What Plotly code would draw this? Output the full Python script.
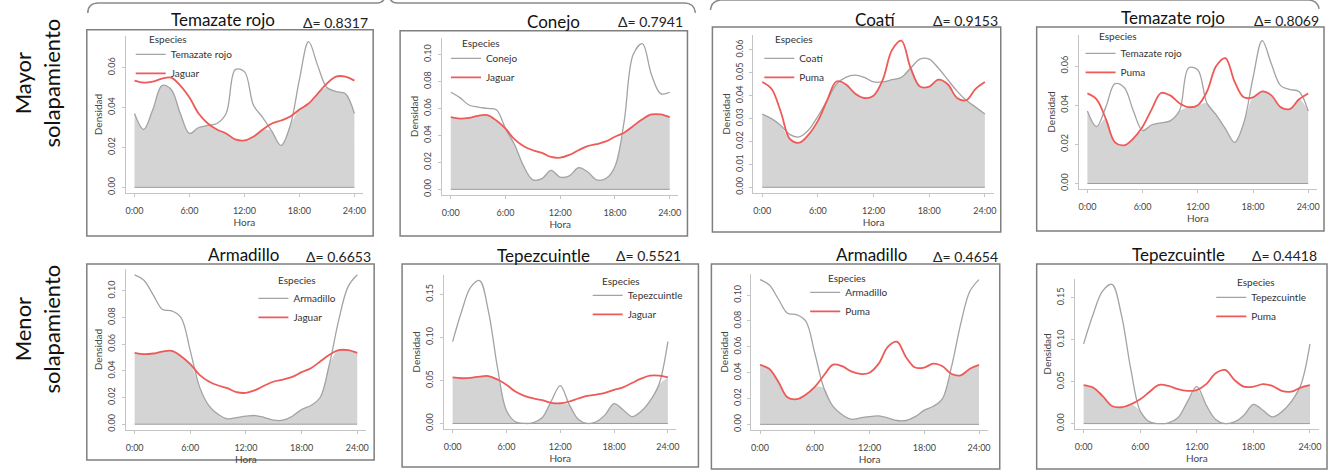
import plotly.graph_objects as go

W, H = 1335, 472

# ---------------- data ----------------
hours = list(range(25))
hour_ticks = [0, 6, 12, 18, 24]
hour_labels = ["0:00", "6:00", "12:00", "18:00", "24:00"]

temazate_rojo = [0.037, 0.029, 0.039, 0.051, 0.049, 0.037, 0.027, 0.030, 0.031, 0.032, 0.037, 0.059, 0.058,
                 0.041, 0.035, 0.028, 0.021, 0.031, 0.054, 0.073, 0.061, 0.050, 0.048, 0.047, 0.037]
jaguar = [0.0535, 0.0525, 0.053, 0.0545, 0.055, 0.051, 0.045, 0.037, 0.032, 0.029, 0.027, 0.024, 0.0235,
          0.0255, 0.029, 0.032, 0.0335, 0.0355, 0.039, 0.042, 0.047, 0.052, 0.0555, 0.0555, 0.0535]
conejo = [0.072, 0.068, 0.0625, 0.061, 0.060, 0.059, 0.045, 0.033, 0.017, 0.007, 0.008, 0.014, 0.009,
          0.010, 0.016, 0.013, 0.007, 0.008, 0.017, 0.050, 0.100, 0.108, 0.085, 0.071, 0.072]
coati = [0.032, 0.030, 0.027, 0.023, 0.022, 0.025, 0.031, 0.038, 0.045, 0.048, 0.049, 0.048, 0.046,
         0.046, 0.047, 0.048, 0.052, 0.056, 0.056, 0.052, 0.047, 0.042, 0.038, 0.035, 0.032]
puma = [0.046, 0.043, 0.033, 0.021, 0.0195, 0.023, 0.029, 0.038, 0.0462, 0.045, 0.041, 0.039, 0.040,
        0.047, 0.060, 0.064, 0.052, 0.044, 0.044, 0.047, 0.045, 0.039, 0.038, 0.043, 0.046]
armadillo = [0.112, 0.108, 0.097, 0.086, 0.085, 0.080, 0.055, 0.028, 0.014, 0.0075, 0.004, 0.005, 0.006,
             0.0065, 0.005, 0.003, 0.003, 0.006, 0.011, 0.014, 0.020, 0.045, 0.078, 0.103, 0.112]
tepezcuintle = [0.095, 0.130, 0.158, 0.166, 0.130, 0.065, 0.015, 0.002, 0.000, 0.001, 0.007, 0.026, 0.044,
                0.022, 0.005, 0.000, 0.002, 0.010, 0.023, 0.016, 0.008, 0.014, 0.026, 0.045, 0.095]

prey_names = ["Temazate rojo", "Conejo", "Coatí", "Temazate rojo",
              "Armadillo", "Tepezcuintle", "Armadillo", "Tepezcuintle"]
prey_series = [temazate_rojo, conejo, coati, temazate_rojo,
               armadillo, tepezcuintle, armadillo, tepezcuintle]
predator_names = ["Jaguar", "Jaguar", "Puma", "Puma", "Jaguar", "Jaguar", "Puma", "Puma"]
predator_series = [jaguar, jaguar, puma, puma, jaguar, jaguar, puma, puma]
overlap = ["0.8317", "0.7941", "0.9153", "0.8069", "0.6653", "0.5521", "0.4654", "0.4418"]
y_dticks = [0.02, 0.02, 0.01, 0.02, 0.02, 0.05, 0.02, 0.05]
row_labels = ["Mayor<br>solapamiento", "Menor<br>solapamiento"]
legend_title = "Especies"
x_title = "Hora"
y_title = "Densidad"

# ---------------- geometry (pixels) ----------------
plot_boxes = [(126, 364, 36, 194), (443, 680, 38, 196), (755, 996, 35, 194), (1081, 1320, 35, 190),
              (126, 367, 270, 432), (445, 678, 276, 431), (753, 990, 275, 432), (1077, 1322, 280, 431)]
frames = [(87, 30, 374, 237), (401, 31, 689, 237), (714, 27, 1003, 233), (1039, 27, 1327, 232),
          (87, 265, 375, 462), (403, 265, 700, 469), (713, 265, 1002, 471), (1039, 265, 1330, 471)]
title_pos = [(224, 20), (555, 22), (877, 20), (1176, 18), (244, 256), (545, 257), (873, 256), (1181, 256)]
delta_pos = [(302, 23), (617, 22), (933, 21), (1255, 21), (305, 258), (615, 257), (933, 258), (1253, 257)]
# (line start x, "Especies" left x, "Especies" y, middle y of two legend items)
legend_pos = [(137, 147, 39, 60), (453, 461, 43, 64), (767, 775, 39, 64), (1089, 1099, 36, 59),
              (260, 277, 281, 305), (595, 601, 282, 302), (813, 828, 279, 299), (1220, 1238, 283, 304)]

FONT = "Lato, 'Open Sans', sans-serif"
FILL = "#d4d4d4"
GRAY = "#a3a3a3"
RED = "#ee5a57"
AXIS = "#c4c4c4"


def px_x(x):
    return x / W


def px_y(y):
    return 1 - y / H


fig = go.Figure()
annotations = []
shapes = []
layout = {}

for i in range(8):
    n = i + 1
    xs = "x" if n == 1 else f"x{n}"
    ys = "y" if n == 1 else f"y{n}"
    xk = "xaxis" if n == 1 else f"xaxis{n}"
    yk = "yaxis" if n == 1 else f"yaxis{n}"
    lk = "legend" if n == 1 else f"legend{n}"
    prey = prey_series[i]
    pred = predator_series[i]
    lower = [min(a, b) for a, b in zip(prey, pred)]
    m = max(max(prey), max(pred))

    fig.add_trace(go.Scatter(x=hours, y=lower, mode="lines", fill="tozeroy", fillcolor=FILL,
                             line=dict(width=0, shape="spline", color=FILL), xaxis=xs, yaxis=ys,
                             showlegend=False, hoverinfo="skip"))
    fig.add_trace(go.Scatter(x=[hours[0], hours[-1]], y=[0, 0], mode="lines",
                             line=dict(width=1, color="#9c9c9c"), xaxis=xs, yaxis=ys,
                             showlegend=False, hoverinfo="skip"))
    fig.add_trace(go.Scatter(x=hours, y=prey, mode="lines", name=prey_names[i],
                             line=dict(width=1.3, shape="spline", color=GRAY), xaxis=xs, yaxis=ys,
                             legend=lk))
    fig.add_trace(go.Scatter(x=hours, y=pred, mode="lines", name=predator_names[i],
                             line=dict(width=1.8, shape="spline", color=RED), xaxis=xs, yaxis=ys,
                             legend=lk))

    left, right, top, bottom = plot_boxes[i]
    layout[xk] = dict(domain=[px_x(left), px_x(right)], anchor=ys, range=[-0.96, 24.96],
                      tickvals=hour_ticks, ticktext=hour_labels, showgrid=False, zeroline=False,
                      showline=True, linecolor=AXIS, linewidth=1, ticks="outside", ticklen=3,
                      tickcolor=AXIS, ticklabelstandoff=6,
                      tickfont=dict(size=9, color="#454545", family=FONT),
                      title=dict(text=x_title, standoff=4, font=dict(size=10, color="#454545", family=FONT)))
    layout[yk] = dict(domain=[px_y(bottom), px_y(top)], anchor=xs, range=[-0.04 * m, 1.04 * m],
                      tick0=0, dtick=y_dticks[i], tickformat=".2f", tickangle=-90, showgrid=False,
                      zeroline=False, showline=True, linecolor=AXIS, linewidth=1, ticks="outside",
                      ticklen=3, tickcolor=AXIS, ticklabelstandoff=3,
                      tickfont=dict(size=9, color="#454545", family=FONT),
                      title=dict(text=y_title, standoff=1, font=dict(size=10, color="#454545", family=FONT)))

    lx, ex, ey, mid = legend_pos[i]
    layout[lk] = dict(x=px_x(lx - 6), y=px_y(mid - 20), xanchor="left", yanchor="top",
                      bgcolor="rgba(0,0,0,0)", borderwidth=0, itemwidth=30, tracegroupgap=0,
                      font=dict(size=10, color="#333333", family=FONT))
    annotations.append(dict(text=legend_title, x=px_x(ex), y=px_y(ey), xref="paper", yref="paper",
                            xanchor="left", yanchor="middle", showarrow=False,
                            font=dict(size=10, color="#333333", family=FONT)))

    tx, ty = title_pos[i]
    annotations.append(dict(text=prey_names[i], x=px_x(tx), y=px_y(ty), xref="paper", yref="paper",
                            xanchor="center", yanchor="middle", showarrow=False,
                            font=dict(size=17, color="#111111", family=FONT)))
    dx, dy = delta_pos[i]
    annotations.append(dict(text="Δ= " + overlap[i], x=px_x(dx), y=px_y(dy), xref="paper", yref="paper",
                            xanchor="left", yanchor="middle", showarrow=False,
                            font=dict(size=14, color="#222222", family=FONT)))

    fx0, fy0, fx1, fy1 = frames[i]
    shapes.append(dict(type="rect", xref="paper", yref="paper", x0=px_x(fx0), x1=px_x(fx1),
                       y0=px_y(fy1), y1=px_y(fy0), line=dict(color="#7f7f7f", width=1.5),
                       fillcolor="rgba(0,0,0,0)", layer="below"))

# row labels
for lbl, cy in zip(row_labels, [83, 330]):
    annotations.append(dict(text=lbl, x=px_x(37), y=px_y(cy), xref="paper", yref="paper",
                            xanchor="center", yanchor="middle", textangle=-90, showarrow=False,
                            font=dict(size=22, color="#111111", family=FONT)))


# braces at the top
def pth(points):
    out = []
    for cmd, pts in points:
        coords = " ".join(f"{px_x(a):.5f},{px_y(b):.5f}" for a, b in pts)
        out.append(f"{cmd} {coords}")
    return " ".join(out)


brace_paths = [
    [("M", [(88, 13)]), ("Q", [(88, 3), (99, 3)]), ("L", [(378, 3)]), ("Q", [(384, 3), (386, -3)])],
    [("M", [(390, -3)]), ("Q", [(392, 3), (398, 3)]), ("L", [(686, 3)]), ("Q", [(696, 3), (697, 13)])],
    [("M", [(712, 10)]), ("Q", [(713, 1), (722, 0)]), ("L", [(1312, 0)]), ("Q", [(1321, 1), (1322, 9)])],
]
for bp in brace_paths:
    shapes.append(dict(type="path", xref="paper", yref="paper", path=pth(bp),
                       line=dict(color="#8a8a8a", width=1.5)))

fig.update_layout(width=W, height=H, margin=dict(l=0, r=0, t=0, b=0), paper_bgcolor="white",
                  plot_bgcolor="white", showlegend=True, annotations=annotations, shapes=shapes,
                  font=dict(family=FONT), **layout)

fig.write_html("out.html")
